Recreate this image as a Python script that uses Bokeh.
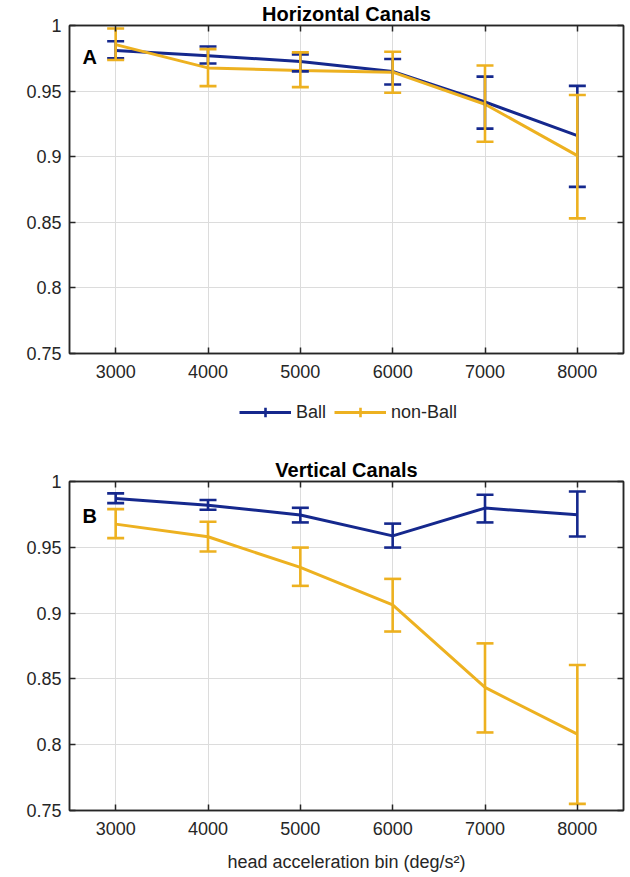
import math
from bokeh.plotting import figure
from bokeh.layouts import column
from bokeh.models import (Range1d, FixedTicker, CustomJSTickFormatter, Whisker, TeeHead,
                          ColumnDataSource, Legend, LegendItem, Label, LinearAxis)
from bokeh.embed import file_html
from bokeh.resources import INLINE

# ---------------- data ----------------
bins = [3000, 4000, 5000, 6000, 7000, 8000]
x_ticks = [3000, 4000, 5000, 6000, 7000, 8000]
y_ticks = [0.75, 0.8, 0.85, 0.9, 0.95, 1.0]
series_names = ["Ball", "non-Ball"]

# Panel A: Horizontal canals
h_ball_mean = [0.981, 0.977, 0.9725, 0.965, 0.9417, 0.916]
h_ball_upper = [0.988, 0.984, 0.978, 0.9745, 0.961, 0.954]
h_ball_lower = [0.975, 0.971, 0.965, 0.955, 0.9214, 0.877]
h_non_mean = [0.9854, 0.9677, 0.9657, 0.9644, 0.940, 0.9008]
h_non_upper = [0.9977, 0.982, 0.9795, 0.980, 0.9695, 0.947]
h_non_lower = [0.9737, 0.9538, 0.953, 0.9487, 0.9114, 0.853]

# Panel B: Vertical canals
v_ball_mean = [0.987, 0.982, 0.9745, 0.9587, 0.9798, 0.9747]
v_ball_upper = [0.991, 0.9859, 0.980, 0.968, 0.9899, 0.9924]
v_ball_lower = [0.9836, 0.9785, 0.9689, 0.9498, 0.9689, 0.9582]
v_non_mean = [0.9676, 0.958, 0.9347, 0.9063, 0.8435, 0.808]
v_non_upper = [0.979, 0.9694, 0.9498, 0.926, 0.877, 0.8606]
v_non_lower = [0.957, 0.9468, 0.9207, 0.886, 0.8093, 0.755]

BLUE = "#15288d"
ORANGE = "#edb120"
DARK = "#262626"
FONT = "Liberation Sans"
W = 630


def make_fig(height, top, bottom, title, letter, letter_y, ball, non, xlabel=None):
    p = figure(width=W, height=height, output_backend="svg", toolbar_location=None,
               x_range=Range1d(2500, 8500), y_range=Range1d(0.75, 1.0),
               min_border_left=69, min_border_right=7,
               min_border_top=top, min_border_bottom=bottom)
    p.title.text = title
    p.title.align = "center"
    p.title.text_font = FONT
    p.title.text_font_size = "20px"
    p.title.text_font_style = "bold"
    p.title.text_color = "black"
    p.title.standoff = 1
    p.title.offset = 0

    p.outline_line_color = DARK
    p.outline_line_width = 1.5
    p.background_fill_color = "white"
    p.border_fill_color = "white"

    for ax in p.xaxis + p.yaxis:
        ax.axis_line_color = DARK
        ax.axis_line_width = 1.5
        ax.major_tick_in = 6
        ax.major_tick_out = 0
        ax.minor_tick_line_color = None
        ax.major_tick_line_color = DARK
        ax.major_tick_line_width = 1.5
        ax.major_label_text_font = FONT
        ax.major_label_text_font_size = "18px"
        ax.major_label_text_color = DARK
        ax.axis_label_text_font = FONT
        ax.axis_label_text_font_size = "18px"
        ax.axis_label_text_color = DARK
        ax.axis_label_text_font_style = "normal"

    p.xaxis.major_label_standoff = 11
    p.yaxis.major_label_standoff = 8
    p.xaxis.ticker = FixedTicker(ticks=x_ticks)
    p.yaxis.ticker = FixedTicker(ticks=y_ticks)
    p.yaxis.formatter = CustomJSTickFormatter(code="return String(Math.round(tick*100)/100);")
    if xlabel:
        p.xaxis.axis_label = xlabel
        p.xaxis.axis_label_standoff = 14

    # box ticks on top and right
    for loc, ticks in (("above", x_ticks), ("right", y_ticks)):
        ax = LinearAxis(ticker=FixedTicker(ticks=ticks), major_label_text_font_size="0px",
                        major_label_standoff=0, major_tick_in=6, major_tick_out=0,
                        minor_tick_line_color=None, axis_line_color=DARK,
                        axis_line_width=1.5, major_tick_line_color=DARK,
                        major_tick_line_width=1.5)
        p.add_layout(ax, loc)

    p.xgrid.ticker = FixedTicker(ticks=x_ticks)
    p.ygrid.ticker = FixedTicker(ticks=y_ticks)
    p.grid.grid_line_color = "#dcdcdc"
    p.grid.grid_line_width = 1

    for (mean, up, lo), color in ((ball, BLUE), (non, ORANGE)):
        src = ColumnDataSource(dict(x=bins, y=mean, upper=up, lower=lo))
        p.line("x", "y", source=src, line_color=color, line_width=3)
        w = Whisker(source=src, base="x", upper="upper", lower="lower", dimension="height",
                    line_color=color, line_width=2.6, level="glyph",
                    upper_head=TeeHead(size=17, line_color=color, line_width=2.6),
                    lower_head=TeeHead(size=17, line_color=color, line_width=2.6))
        p.add_layout(w)

    # y axis label (italic)
    p.add_layout(Label(x=2500, y=0.875, x_offset=-59, text="pca", angle=math.pi / 2,
                       text_align="center", text_baseline="middle", text_font=FONT,
                       text_font_size="18px", text_font_style="italic", text_color=DARK))
    p.add_layout(Label(x=2641, y=letter_y, text=letter, text_align="left",
                       text_baseline="alphabetic", text_font=FONT, text_font_size="20px",
                       text_font_style="bold", text_color="black"))
    return p


p1 = make_fig(386, 23, 33, "Horizontal Canals", "A", 0.9757,
              (h_ball_mean, h_ball_upper, h_ball_lower),
              (h_non_mean, h_non_upper, h_non_lower))

# ---- legend strip (series glyphs are drawn out of view; only the legend shows) ----
pl = figure(width=W, height=59, output_backend="svg", toolbar_location=None,
            x_range=Range1d(0, 1), y_range=Range1d(0, 1),
            x_axis_location=None, y_axis_location=None,
            min_border_left=0, min_border_right=0, min_border_top=0, min_border_bottom=0)
pl.grid.visible = False
pl.outline_line_color = None
items = []
for name, mean, color in zip(series_names, (h_ball_mean, h_non_mean), (BLUE, ORANGE)):
    src = ColumnDataSource(dict(x=bins, y=mean))
    r_line = pl.line("x", "y", source=src, line_color=color, line_width=3)
    r_mark = pl.scatter("x", "y", source=src, marker="cross", size=18,
                        line_color=color, line_width=2.6)
    items.append(LegendItem(label=name, renderers=[r_line, r_mark]))
legend = Legend(items=items, orientation="horizontal", location=(170, 21),
                label_text_font=FONT, label_text_font_size="18px", label_text_color=DARK,
                glyph_width=52, glyph_height=24, spacing=8, padding=0, margin=0,
                border_line_color=None, background_fill_alpha=0, label_standoff=5)
pl.add_layout(legend)

p2 = make_fig(432, 36, 67, "Vertical Canals", "B", 0.974,
              (v_ball_mean, v_ball_upper, v_ball_lower),
              (v_non_mean, v_non_upper, v_non_lower),
              xlabel="head acceleration bin (deg/s\u00b2)")

layout = column(p1, pl, p2, spacing=0)
open("out.html", "w").write(file_html(layout, INLINE))
